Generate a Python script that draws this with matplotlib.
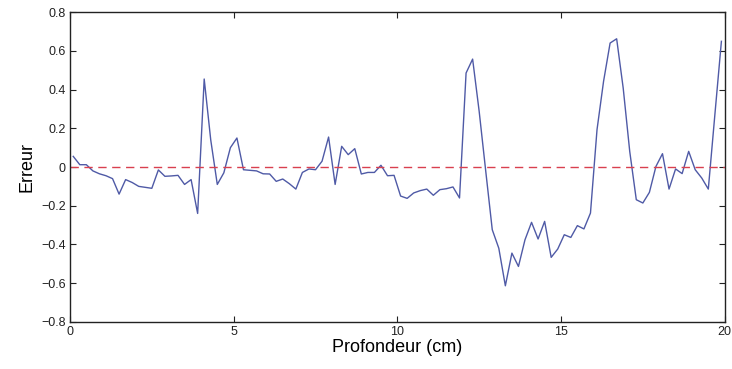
import numpy as np
import matplotlib.pyplot as plt

plt.rcParams['font.family'] = ['Liberation Sans Narrow', 'Liberation Sans', 'DejaVu Sans']

# profondeur (cm) : un point tous les 0.2 cm
profondeur = np.round(np.arange(0.1, 20.0, 0.2), 1)
erreur = [
    0.055, 0.012, 0.012, -0.02, -0.035, -0.045, -0.06, -0.14, -0.065, -0.08,
    -0.10, -0.105, -0.11, -0.015, -0.048, -0.046, -0.043, -0.09, -0.065, -0.24,
    0.455, 0.14, -0.09, -0.03, 0.10, 0.15, -0.014, -0.017, -0.02, -0.035,
    -0.036, -0.074, -0.062, -0.086, -0.114, -0.028, -0.01, -0.014, 0.03, 0.155,
    -0.09, 0.107, 0.064, 0.095, -0.036, -0.028, -0.028, 0.009, -0.045, -0.043,
    -0.15, -0.162, -0.134, -0.122, -0.114, -0.146, -0.117, -0.112, -0.103, -0.16,
    0.486, 0.558, 0.288, -0.02, -0.324, -0.42, -0.614, -0.445, -0.514, -0.376,
    -0.286, -0.372, -0.281, -0.467, -0.424, -0.35, -0.364, -0.303, -0.32, -0.238,
    0.193, 0.443, 0.641, 0.663, 0.408, 0.08, -0.169, -0.186, -0.131, 0.003,
    0.069, -0.114, -0.01, -0.034, 0.081, -0.014, -0.057, -0.114, 0.27, 0.65,
]

x_ticks = [0, 5, 10, 15, 20]
y_ticks = [-0.8, -0.6, -0.4, -0.2, 0, 0.2, 0.4, 0.6, 0.8]
y_labels = ['\u22120.8', '\u22120.6', '\u22120.4', '\u22120.2', '0', '0.2', '0.4', '0.6', '0.8']

fig = plt.figure(figsize=(7.32, 3.69), dpi=100)
ax = fig.add_axes([0.0956, 0.128, 0.8944, 0.8387])

ax.plot(profondeur, erreur, color='#4f5aa6', lw=1.0)
ax.axhline(0, color='#d9404f', lw=1.0, ls=(0, (6, 4)))

ax.set_xlim(0, 20)
ax.set_ylim(-0.8, 0.8)
ax.set_xticks(x_ticks)
ax.set_yticks(y_ticks)
ax.set_yticklabels(y_labels)
ax.tick_params(direction='in', top=True, right=True, length=4, width=0.8,
               labelsize=9, colors='#222222', pad=3)
for s in ax.spines.values():
    s.set_linewidth(1.0)
    s.set_color('#222222')

ax.set_xlabel('Profondeur (cm)', fontsize=13, labelpad=1)
ax.set_ylabel('Erreur', fontsize=13, labelpad=4)

fig.savefig('out.png', dpi=100)
